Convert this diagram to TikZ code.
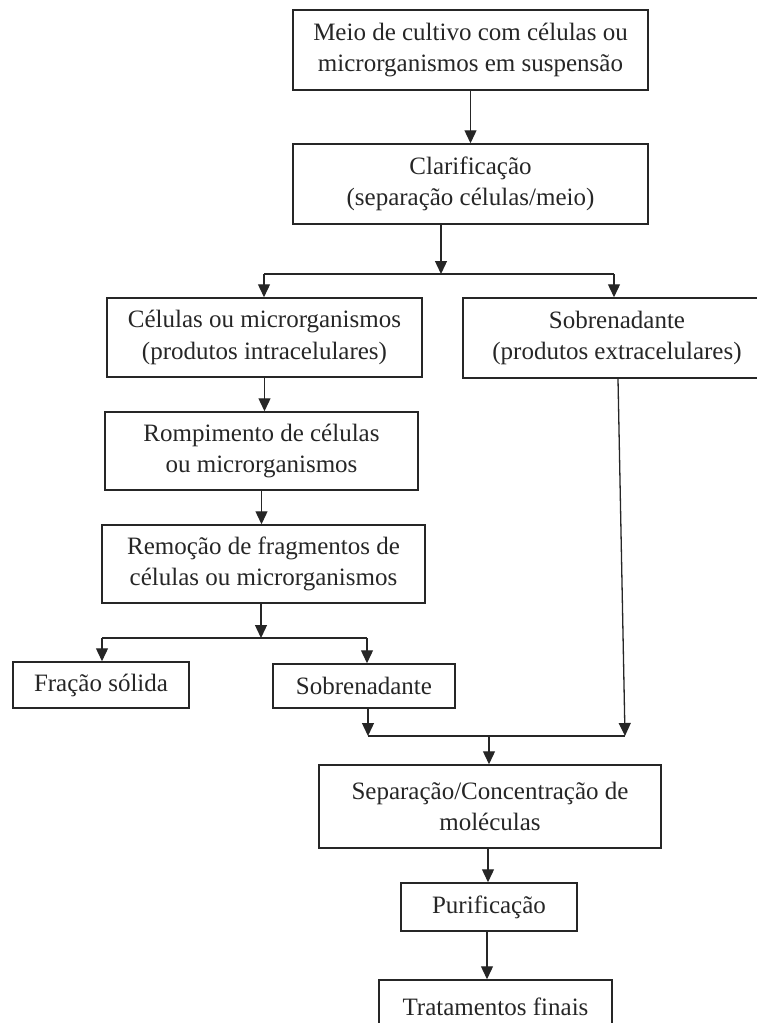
\documentclass[tikz,border=0pt]{standalone}
\usepackage{fontspec}
\setmainfont{Liberation Serif}
\usetikzlibrary{arrows.meta}

\tikzset{
    box/.style={draw=black!85, line width=1.5pt, align=center, inner sep=0pt,
        text=black!85, font=\fontsize{25}{31.5}\selectfont},
    arr/.style={-{Triangle[width=12pt, length=13pt]}, draw=black!85, line width=1.3pt},
    ln/.style={draw=black!85, line width=1.3pt}
}

\begin{document}
\begin{tikzpicture}[x=1pt, y=-1pt]
            \useasboundingbox (0,0) rectangle (757,1023);
            \clip (0,0) rectangle (757,1023);

            \node[box, minimum width=355, minimum height=80] (meio) at (470.5,50)
                {Meio de cultivo com células ou\\microrganismos em suspensão};
            \node[box, minimum width=355, minimum height=80] (clarif) at (470.5,184)
                {Clarificação\\(separação células/meio)};
            \node[box, minimum width=315, minimum height=79] (celulas) at (264.5,337.5)
                {Células ou microrganismos\\(produtos intracelulares)};
            \node[box, minimum width=308, minimum height=80] (sobreA) at (617,338)
                {Sobrenadante\\(produtos extracelulares)};
            \node[box, minimum width=313, minimum height=78] (rompim) at (261.5,451)
                {Rompimento de células\\ou microrganismos};
            \node[box, minimum width=323, minimum height=78] (remocao) at (263.5,564)
                {Remoção de fragmentos de\\células ou microrganismos};
            \node[box, minimum width=176, minimum height=46] (fracao) at (101,685) {Fração sólida};
            \node[box, minimum width=182, minimum height=44] (sobreB) at (364,686) {Sobrenadante};
            \node[box, minimum width=342, minimum height=83] (separ) at (490,806.5)
                {Separação/Concentração de\\moléculas};
            \node[box, minimum width=176, minimum height=48] (purif) at (489,907) {Purificação};
            \node[box, minimum width=233, minimum height=54] (tratam) at (495.5,1007) {Tratamentos finais};

            \coordinate (split1) at (441,274);
            \coordinate (split2) at (261,638);
            \coordinate (join) at (489,736);

            \draw[arr] (meio.south) -- (clarif.north);
            \draw[arr] (clarif.south -| split1) -- (split1);
            \draw[ln] (264,274) -- (614,274);
            \draw[arr] (264,274) -- (264,274 |- celulas.north);
            \draw[arr] (614,274) -- (614,274 |- sobreA.north);

            \draw[arr] (celulas.south) -- (celulas.south |- rompim.north);
            \draw[arr] (rompim.south) -- (rompim.south |- remocao.north);
            \draw[arr] (remocao.south -| split2) -- (split2);
            \draw[ln] (102,638) -- (367,638);
            \draw[arr] (102,638) -- (102,638 |- fracao.north);
            \draw[arr] (367,638) -- (367,638 |- sobreB.north);

            \draw[arr] (368,0 |- sobreB.south) -- (368,736);
            \draw[arr] (618,0 |- sobreA.south) -- (625,736);
            \draw[ln] (368,736) -- (625,736);
            \draw[arr] (join) -- (join |- separ.north);

            \draw[arr] (488,0 |- separ.south) -- (488,0 |- purif.north);
            \draw[arr] (487,0 |- purif.south) -- (487,0 |- tratam.north);
\end{tikzpicture}
\end{document}
